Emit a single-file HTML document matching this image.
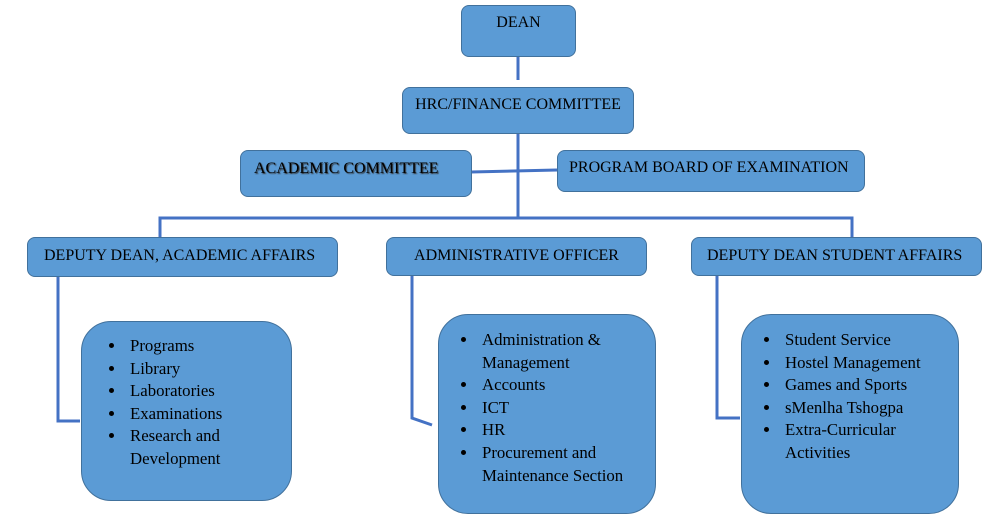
<!DOCTYPE html><html><head><style>
body{margin:0;width:1007px;height:524px;background:#fff;position:relative;overflow:hidden;font-family:"Liberation Serif",serif;font-size:16px;color:#000}
.b{position:absolute;background:#5b9bd5;border:1px solid #41719c;border-radius:8px;box-sizing:border-box}
.t{position:absolute;white-space:nowrap}
ul{position:absolute;margin:0;padding:0 0 0 44px;list-style:disc;line-height:22.6px;font-size:16.8px}
li{padding-left:4px}
</style></head><body>
<svg width="1007" height="524" style="position:absolute;left:0;top:0">
<g stroke="#4472c4" stroke-width="3" fill="none">
<line x1="518" y1="56" x2="518" y2="80"/>
<line x1="518" y1="133" x2="518" y2="218"/>
<line x1="471" y1="172" x2="557" y2="170"/>
<polyline points="160,237 160,218 852,218 852,237"/>
<polyline points="58,276 58,421 80,421"/>
<polyline points="412,275 412,418 432,425"/>
<polyline points="717,276 717,418 740,418"/>
</g></svg>
<div class="b" style="left:461px;top:5px;width:115px;height:52px"><div class="t" style="left:0;right:0;top:8px;text-align:center">DEAN</div></div>
<div class="b" style="left:402px;top:87px;width:232px;height:47px"><div class="t" style="left:0;right:0;top:8px;text-align:center">HRC/FINANCE COMMITTEE</div></div>
<div class="b" style="left:240px;top:150px;width:232px;height:47px"><div class="t" style="left:13px;top:9px;text-shadow:1px 1px 1px #333">ACADEMIC COMMITTEE</div></div>
<div class="b" style="left:557px;top:150px;width:308px;height:42px"><div class="t" style="left:11px;top:8px">PROGRAM BOARD OF EXAMINATION</div></div>
<div class="b" style="left:27px;top:237px;width:311px;height:40px"><div class="t" style="left:16px;top:9px">DEPUTY DEAN, ACADEMIC AFFAIRS</div></div>
<div class="b" style="left:386px;top:237px;width:261px;height:39px"><div class="t" style="left:0;right:0;top:9px;text-align:center">ADMINISTRATIVE OFFICER</div></div>
<div class="b" style="left:691px;top:237px;width:291px;height:39px"><div class="t" style="left:15px;top:9px">DEPUTY DEAN STUDENT AFFAIRS</div></div>
<div class="b" style="left:81px;top:321px;width:211px;height:180px;border-radius:30px"><ul style="top:13px;left:0"><li>Programs</li><li>Library</li><li>Laboratories</li><li>Examinations</li><li>Research and<br>Development</li></ul></div>
<div class="b" style="left:438px;top:314px;width:218px;height:200px;border-radius:30px"><ul style="top:14px;left:0;padding-left:39px"><li>Administration &amp;<br>Management</li><li>Accounts</li><li>ICT</li><li>HR</li><li>Procurement and<br>Maintenance Section</li></ul></div>
<div class="b" style="left:741px;top:314px;width:218px;height:200px;border-radius:30px"><ul style="top:14px;left:0;padding-left:39px"><li>Student Service</li><li>Hostel Management</li><li>Games and Sports</li><li>sMenlha Tshogpa</li><li>Extra-Curricular<br>Activities</li></ul></div>
</body></html>
